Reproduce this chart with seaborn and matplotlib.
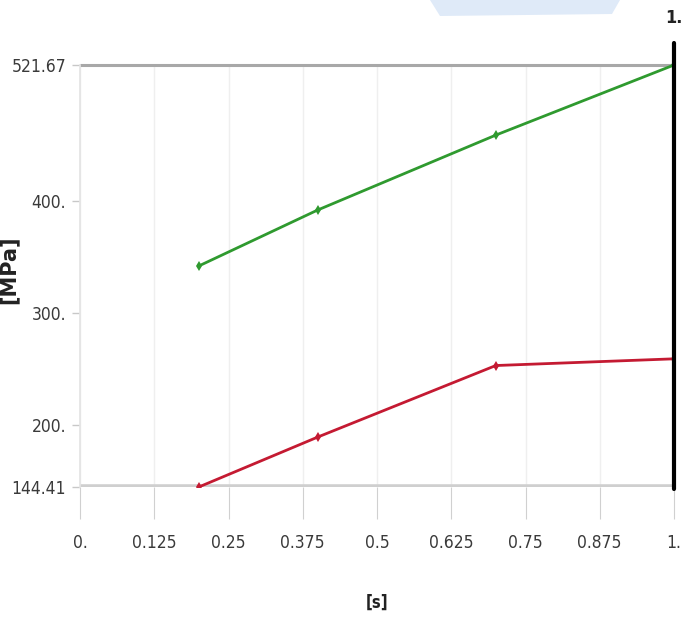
import matplotlib

matplotlib.use("Agg")
import matplotlib.pyplot as plt
from matplotlib.patches import Polygon
import pandas as pd
import seaborn as sns

# data
time_s = [0.2, 0.4, 0.7, 1.0]
stress_max = [342.0, 392.0, 459.0, 521.67]
stress_min = [144.41, 189.0, 253.0, 259.0]
x_ticks = [0.0, 0.125, 0.25, 0.375, 0.5, 0.625, 0.75, 0.875, 1.0]
x_tick_labels = ["0.", "0.125", "0.25", "0.375", "0.5", "0.625", "0.75", "0.875", "1."]
y_ticks = [144.41, 200.0, 300.0, 400.0, 521.67]
y_tick_labels = ["144.41", "200.", "300.", "400.", "521.67"]
y_min, y_max = 144.41, 521.67

sns.set_theme(style="white")
plt.rcParams["font.family"] = ["DejaVu Sans"]

df = pd.DataFrame(
    {
        "time": time_s * 2,
        "stress": stress_max + stress_min,
        "series": ["max"] * len(time_s) + ["min"] * len(time_s),
    }
)

fig = plt.figure(figsize=(6.84, 6.24), dpi=100)
ax = fig.add_axes([80 / 684, 1 - 487 / 624, 594 / 684, (487 - 45) / 624])

# faint watermark at the top of the reference
fig.patches.append(
    Polygon(
        [(430 / 684, 1.0), (620 / 684, 1.0), (612 / 684, 1 - 14 / 624), (440 / 684, 1 - 16 / 624)],
        closed=True, transform=fig.transFigure, facecolor="#dfeaf8", edgecolor="none", zorder=0,
    )
)

sns.lineplot(
    data=df, x="time", y="stress", hue="series",
    palette={"max": "#2f9a2f", "min": "#c41a32"},
    marker="d", markersize=5, markeredgewidth=0, linewidth=2.0,
    legend=False, ax=ax, zorder=4,
)

# min / max reference lines and the current-time cursor
ax.axhline(y_max, color="#a8a8a8", linewidth=2.2, zorder=2)
ax.axhline(y_min, color="#cfcfcf", linewidth=4.0, zorder=2)
ax.plot([1.0, 1.0], [y_min - 2, y_max + 20], color="black", linewidth=3, clip_on=False, zorder=5)
ax.text(1.0, 1.0 + 27 / 442, "1.", transform=ax.get_xaxis_transform(), ha="center", va="center",
        fontsize=13, fontweight="bold", fontstretch="condensed", color="#222222")

ax.set_xlim(0, 1)
ax.set_ylim(y_min, y_min + (487 - 45) / 1.1186)
ax.set_xticks(x_ticks)
ax.set_xticklabels(x_tick_labels, fontsize=12.5, fontstretch="condensed", color="#3a3a3a")
ax.set_yticks(y_ticks)
ax.set_yticklabels(y_tick_labels, fontsize=12.5, fontstretch="condensed", color="#3a3a3a")
for xv in x_ticks[:-1]:
    ax.axvline(xv, ymax=(y_max - y_min) / (ax.get_ylim()[1] - y_min), color="#efefef", linewidth=1, zorder=1)

ax.tick_params(axis="x", length=23, width=0.8, color="#d0d0d0", pad=11, bottom=True)
ax.tick_params(axis="y", length=6, width=1, color="#c8c8c8", pad=4, left=True)
for side in ["top", "right", "bottom"]:
    ax.spines[side].set_visible(False)
ax.spines["left"].set_color("#e4e4e4")
ax.spines["left"].set_bounds(y_min, y_max)

ax.set_xlabel("[s]", fontsize=12, fontweight="bold", fontstretch="condensed", color="#222222")
ax.xaxis.set_label_coords((377 - 80) / 594, (487 - 594) / 442)
ax.set_ylabel("[MPa]", fontsize=15, fontweight="bold", color="#222222")
ax.yaxis.set_label_coords((19 - 80) / 594, (487 - 270) / 442)

fig.savefig("out.png", dpi=100)
